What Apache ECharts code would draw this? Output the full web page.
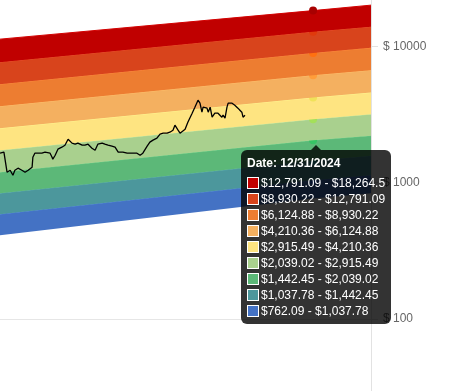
<!DOCTYPE html>
<html><head><meta charset="utf-8">
<script src="https://cdn.jsdelivr.net/npm/echarts@6/dist/echarts.min.js"></script>
<style>html,body{margin:0;padding:0;background:#fff}#chart{width:456px;height:391px}</style>
</head><body><div id="chart"></div>
<script>
// ---- price line ----
const priceDates = ['2022-10-23','2022-11-02','2022-11-10','2022-11-12','2022-11-18','2022-11-25','2022-11-30','2022-12-08','2022-12-18','2022-12-26',
'2023-01-03','2023-01-13','2023-01-15','2023-01-20','2023-01-28','2023-02-07','2023-02-15','2023-02-20','2023-02-28','2023-03-05',
'2023-03-07','2023-03-13','2023-03-20','2023-03-30','2023-04-07','2023-04-15','2023-04-20','2023-04-25','2023-05-03','2023-05-10',
'2023-05-21','2023-05-28','2023-06-05','2023-06-15','2023-06-23','2023-06-30','2023-07-11','2023-07-18','2023-07-26','2023-08-05',
'2023-08-13','2023-08-21','2023-08-26','2023-09-02','2023-09-13','2023-09-20','2023-09-28','2023-10-08','2023-10-16','2023-10-23',
'2023-11-03','2023-11-10','2023-11-18','2023-11-28','2023-12-06','2023-12-14','2023-12-24','2023-12-31','2024-01-08','2024-01-13',
'2024-01-18','2024-01-21','2024-01-26','2024-01-31','2024-02-08','2024-02-15','2024-02-26','2024-03-04','2024-03-12','2024-03-17',
'2024-03-22','2024-03-25','2024-04-04','2024-04-07','2024-04-12','2024-04-17','2024-04-24','2024-05-02','2024-05-12','2024-05-15',
'2024-05-20','2024-05-25','2024-05-28','2024-06-07','2024-06-14','2024-06-22','2024-06-27','2024-07-02','2024-07-05','2024-07-10'];
const priceValues = [1641,1669,1190,1170,1231,1131,1231,1274,1231,1190,
1231,1295,1534,1641,1641,1641,1669,1641,1641,1534,
1483,1586,1756,1816,1879,2079,2115,1944,1911,1944,
1879,1879,1911,1785,1726,1911,1944,1911,1879,1847,
1816,1669,1641,1669,1641,1641,1641,1641,1586,1641,
1847,1977,2045,2115,2263,2301,2301,2340,2421,2634,
2547,2421,2301,2340,2462,2772,3227,3572,4021,3821,
3282,3572,3512,3282,3572,3016,3227,3227,3016,3120,
2966,3572,3821,3821,3694,3512,3395,3282,3016,3120];

// ---- rainbow band edges (bottom edge0 .. top edge9) ----
const bandDates = ['2022-10-23','2024-12-31','2025-05-28'];
const edge0 = [410.3, 762.09, 834];
const edge1 = [585.2, 1037.78, 1131];
const edge2 = [834.4, 1442.45, 1573];
const edge3 = [1190, 2039.02, 2206];
const edge4 = [1726, 2915.49, 3173];
const edge5 = [2504, 4210.36, 4580];
const edge6 = [3633, 6124.88, 6676];
const edge7 = [5268, 8930.22, 9734];
const edge8 = [7643, 12791.09, 13928];
const edge9 = [11276, 18264.5, 20036];
const tipIndex = 1;
const yTicks = [10, 100, 1000, 10000, 100000];

// ---- styles ----
const bandColors = ['#4472c4','#4c979c','#5cb878','#a9d08e','#fee481','#f4b060','#ed7d31','#d8441c','#c00000'];
const dotColors  = ['#2060e0','#22a0aa','#36c466','#a4e05a','#f0e25a','#ff9d3a','#ff7010','#e03a0c','#a80000'];

const edges = [edge0,edge1,edge2,edge3,edge4,edge5,edge6,edge7,edge8,edge9];
const series = [{
  type:'line', stack:'bands', name:'base', symbol:'none', silent:true,
  data: bandDates.map((d,i)=>[d, edge0[i]]),
  lineStyle:{opacity:0}, z:2
}];
for (let k=1;k<=9;k++){
  series.push({
    type:'line', stack:'bands', name:'band'+k,
    data: bandDates.map((d,i)=>[d, edges[k][i]-edges[k-1][i]]),
    showSymbol:false, symbol:'circle', symbolSize:8,
    itemStyle:{color:dotColors[k-1]},
    lineStyle:{color:bandColors[k-1], width:1},
    areaStyle:{color:bandColors[k-1], opacity:1},
    emphasis:{scale:false, focus:'none', areaStyle:{color:bandColors[k-1]}, lineStyle:{width:1}},
    z:2+k
  });
}
series.push({
  type:'line', name:'price', data: priceDates.map((d,i)=>[d, priceValues[i]]),
  showSymbol:false, symbol:'none', silent:true, lineStyle:{color:'#000', width:1.3},
  emphasis:{disabled:true}, z:30
});

function fmt(v){ return v.toLocaleString('en-US',{maximumFractionDigits:2}); }
function fmtDate(s){ const p=s.split('-'); return p[1]+'/'+p[2]+'/'+p[0]; }

const chart = echarts.init(document.getElementById('chart'), null, {renderer:'canvas'});
chart.setOption({
  animation:false,
  backgroundColor:'#fff',
  grid:{left:0, right:85, top:-90, bottom:-64, containLabel:false, outerBoundsMode:'none'},
  xAxis:{type:'time', min:bandDates[0], max:bandDates[2], show:false, splitLine:{show:false}},
  yAxis:{type:'log', logBase:10, min:yTicks[0], max:yTicks[yTicks.length-1], position:'right',
    axisLine:{show:true, lineStyle:{color:'#e2e2e2', width:1}},
    axisTick:{show:true, length:7, lineStyle:{color:'#e2e2e2'}},
    splitLine:{show:true, lineStyle:{color:'#e6e6e6', width:1}},
    minorTick:{show:false}, minorSplitLine:{show:false},
    axisLabel:{formatter:v=>'$ '+v, color:'#666', fontSize:12, margin:12, fontFamily:'Liberation Sans, Arial, sans-serif'}
  },
  tooltip:{
    trigger:'axis', triggerOn:'none', alwaysShowContent:true,
    axisPointer:{type:'none'},
    position:[241,150],
    backgroundColor:'rgba(0,0,0,0.8)', borderWidth:0, padding:[6,6,6,6],
    textStyle:{color:'#fff', fontSize:12, fontFamily:'Liberation Sans, Arial, sans-serif'},
    extraCssText:'border-radius:6px;box-shadow:none;overflow:visible;',
    formatter:function(params){
      const i = params.length ? params[0].dataIndex : tipIndex;
      let h = '<div style="position:absolute;left:70px;top:-5px;width:0;height:0;border-left:5px solid transparent;border-right:5px solid transparent;border-bottom:5px solid rgba(0,0,0,0.8)"></div>';
      h += '<div style="font-weight:bold;line-height:14px;height:14px;margin-bottom:6px">Date: '+fmtDate(bandDates[i])+'</div>';
      for (let k=9;k>=1;k--){
        h += '<div style="line-height:14px;height:14px;margin-top:'+(k===9?0:2)+'px;display:flex;align-items:center;white-space:nowrap">'
          + '<span style="display:inline-block;width:12px;height:12px;box-sizing:border-box;border:1px solid #fff;background:'+bandColors[k-1]+';margin-right:2px"></span>'
          + '$'+fmt(edges[k-1][i])+' - $'+fmt(edges[k][i])+'</div>';
      }
      return h;
    }
  },
  series: series
});
chart.dispatchAction({type:'showTip', seriesIndex:9, dataIndex:tipIndex});
</script></body></html>
